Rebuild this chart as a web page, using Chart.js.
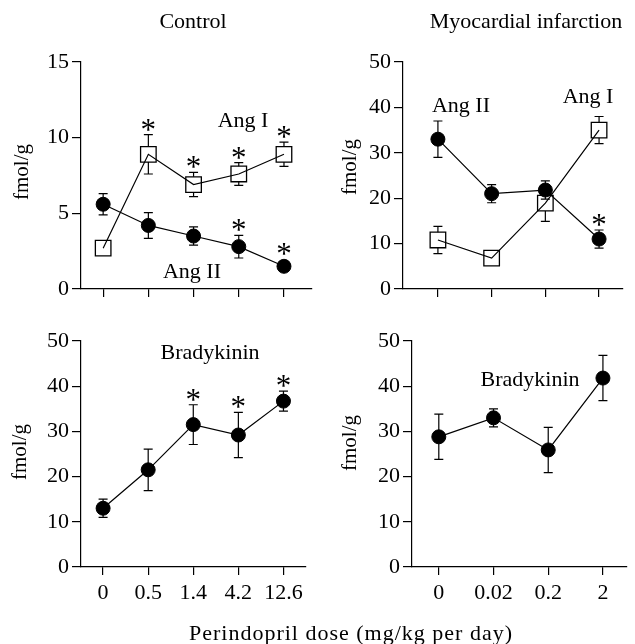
<!DOCTYPE html>
<html>
<head>
<meta charset="utf-8">
<script src="https://cdn.jsdelivr.net/npm/chart.js@4.4.1/dist/chart.umd.min.js"></script>
<style>
  body{margin:0;background:#fff;}
  #wrap{position:relative;width:635px;height:644px;}
  #wrap canvas{position:absolute;left:0;top:0;}
</style>
</head>
<body>
<div id="wrap">
  <canvas id="panel1" width="635" height="644"></canvas>
  <canvas id="panel2" width="635" height="644"></canvas>
  <canvas id="panel3" width="635" height="644"></canvas>
  <canvas id="panel4" width="635" height="644"></canvas>
</div>
<script>
// dosis (mg/kg por dia)
const dosisControl = ["0", "0.5", "1.4", "4.2", "12.6"];
const dosisInfarto = ["0", "0.02", "0.2", "2"];

// Control - Ang I / Ang II (fmol/g)
const angIControl      = [2.7, 8.9, 6.9, 7.6, 8.9];
const angIControlErr   = [0, 1.3, 0.8, 0.75, 0.8];
const angIControlSig   = [0, 1, 1, 1, 1];
const angIIControl     = [5.6, 4.2, 3.5, 2.8, 1.5];
const angIIControlErr  = [0.7, 0.85, 0.6, 0.75, 0];
const angIIControlSig  = [0, 0, 0, 1, 1];

// Infarto - Ang I / Ang II
const angIInfarto      = [10.8, 6.8, 18.9, 35];
const angIInfartoErr   = [3, 0, 4, 3];
const angIInfartoSig   = [0, 0, 0, 0];
const angIIInfarto     = [33, 21, 21.8, 11];
const angIIInfartoErr  = [4, 2, 2, 2];
const angIIInfartoSig  = [0, 0, 0, 1];

// Bradiquinina
const bkControl        = [13, 21.5, 31.5, 29.2, 36.7];
const bkControlErr     = [2, 4.6, 4.4, 5, 2.2];
const bkControlSig     = [0, 0, 1, 1, 1];
const bkInfarto        = [28.8, 33, 25.9, 41.8];
const bkInfartoErr     = [5, 2, 5, 5];
const bkInfartoSig     = [0, 0, 0, 0];

const serif = "'Liberation Serif', 'Times New Roman', serif";

const pluginTextos = {
    id: 'textos',
    beforeDatasetsDraw(chart){
        // barras de error
        const ctx = chart.ctx;
        const y = chart.scales.y;
        ctx.save();
        ctx.strokeStyle = '#000';
        ctx.lineWidth = 1.2;
        chart.data.datasets.forEach((ds, i) => {
            const meta = chart.getDatasetMeta(i);
            meta.data.forEach((pt, k) => {
                const e = ds.errores[k];
                if(!e) return;
                const hueco = ds.pointStyle === 'rect' ? ds.pointRadius * Math.SQRT1_2 : 0;
                const yTop = y.getPixelForValue(ds.data[k].y + e);
                const yBot = y.getPixelForValue(ds.data[k].y - e);
                ctx.beginPath();
                if(yTop < pt.y - hueco){
                    ctx.moveTo(pt.x, pt.y - hueco); ctx.lineTo(pt.x, yTop);
                    ctx.moveTo(pt.x - 4.5, yTop); ctx.lineTo(pt.x + 4.5, yTop);
                }
                if(yBot > pt.y + hueco){
                    ctx.moveTo(pt.x, pt.y + hueco); ctx.lineTo(pt.x, yBot);
                    ctx.moveTo(pt.x - 4.5, yBot); ctx.lineTo(pt.x + 4.5, yBot);
                }
                ctx.stroke();
            });
        });
        ctx.restore();
    },
    afterDatasetsDraw(chart, args, opts){
        const ctx = chart.ctx;
        const y = chart.scales.y;
        ctx.save();
        ctx.fillStyle = '#000';
        ctx.textAlign = 'center';
        ctx.textBaseline = 'alphabetic';

        // asteriscos
        ctx.font = `31px ${serif}`;
        const m = ctx.measureText('*');
        chart.data.datasets.forEach((ds, i) => {
            const meta = chart.getDatasetMeta(i);
            meta.data.forEach((pt, k) => {
                if(!ds.signif[k]) return;
                const mitad = ds.pointStyle === 'rect' ? ds.pointRadius * Math.SQRT1_2 : ds.pointRadius + 0.5;
                const tope = Math.min(pt.y - mitad, y.getPixelForValue(ds.data[k].y + (ds.errores[k] || 0)));
                const yc = tope - 10;
                ctx.fillText('*', pt.x, yc + (m.actualBoundingBoxAscent - m.actualBoundingBoxDescent) / 2);
            });
        });

        // textos
        (opts.textos || []).forEach(t => {
            ctx.font = `${t.size || 22}px ${serif}`;
            ctx.letterSpacing = t.esp || '0px';
            if(t.rot){
                ctx.save();
                ctx.translate(t.x, t.y);
                ctx.rotate(-Math.PI / 2);
                ctx.fillText(t.texto, 0, 0);
                ctx.restore();
            }else{
                ctx.fillText(t.texto, t.x, t.y);
            }
        });
        ctx.restore();
    }
};

function serie(valores, errores, signif, estilo){
    const hueco = estilo === 'rect';
    return {
        data: valores.map((v, i) => ({x: i, y: v})),
        errores: errores,
        signif: signif,
        borderColor: '#000',
        borderWidth: 1.2,
        pointStyle: estilo,
        pointRadius: hueco ? 11 : 7,
        pointBorderWidth: hueco ? 1.3 : 1,
        pointBorderColor: '#000',
        pointBackgroundColor: hueco ? 'rgba(0,0,0,0)' : '#000',
        tension: 0,
        fill: false
    };
}

function crearPanel(id, p){
    const anchoY = 60;
    const ejeX = {
        type: 'linear',
        min: p.xMin,
        max: p.xMax,
        afterBuildTicks: s => { s.ticks = p.etiquetas.map((_, i) => ({value: i})); },
        afterFit: s => { s.height = 644 - p.area.bottom; },
        ticks: {
            display: p.mostrarX,
            autoSkip: false,
            maxRotation: 0,
            padding: 5,
            color: '#000',
            font: {family: serif, size: 22},
            callback: (v, i) => p.etiquetas[i]
        },
        grid: {drawOnChartArea: false, drawTicks: true, tickLength: 8, color: '#000', lineWidth: 1.2},
        border: {color: '#000', width: 1.2}
    };
    const ejeY = {
        min: 0,
        max: p.yMax,
        afterFit: s => { s.width = anchoY; },
        ticks: {stepSize: p.paso, padding: 3, color: '#000', font: {family: serif, size: 22}},
        grid: {drawOnChartArea: false, drawTicks: true, tickLength: 9, color: '#000', lineWidth: 1.2},
        border: {color: '#000', width: 1.2}
    };
    return new Chart(document.getElementById(id), {
        type: 'line',
        data: {datasets: p.series},
        plugins: [pluginTextos],
        options: {
            responsive: false,
            animation: false,
            layout: {padding: {left: p.area.left - anchoY, top: p.area.top, right: 635 - p.area.right, bottom: 0}},
            plugins: {
                legend: {display: false},
                tooltip: {enabled: false},
                textos: {textos: p.textos}
            },
            scales: {x: ejeX, y: ejeY}
        }
    });
}

crearPanel('panel1', {
    area: {left: 81, top: 62, right: 312, bottom: 289},
    xMin: -0.49, xMax: 4.62, yMax: 15, paso: 5,
    etiquetas: dosisControl, mostrarX: false,
    series: [
        serie(angIIControl, angIIControlErr, angIIControlSig, 'circle'),
        serie(angIControl, angIControlErr, angIControlSig, 'rect')
    ],
    textos: [
        {texto: 'Control', x: 193, y: 28},
        {texto: 'fmol/g', x: 27.5, y: 172, rot: true, size: 21},
        {texto: 'Ang I', x: 243, y: 127},
        {texto: 'Ang II', x: 192, y: 278}
    ]
});

crearPanel('panel2', {
    area: {left: 403, top: 62, right: 635, bottom: 289},
    xMin: -0.65, xMax: 3.44, yMax: 50, paso: 10,
    etiquetas: dosisInfarto, mostrarX: false,
    series: [
        serie(angIIInfarto, angIIInfartoErr, angIIInfartoSig, 'circle'),
        serie(angIInfarto, angIInfartoErr, angIInfartoSig, 'rect')
    ],
    textos: [
        {texto: 'Myocardial infarction', x: 526, y: 28},
        {texto: 'fmol/g', x: 356, y: 167, rot: true, size: 21},
        {texto: 'Ang II', x: 461, y: 112},
        {texto: 'Ang I', x: 588, y: 103}
    ]
});

crearPanel('panel3', {
    area: {left: 81, top: 341, right: 306, bottom: 567},
    xMin: -0.49, xMax: 4.5, yMax: 50, paso: 10,
    etiquetas: dosisControl, mostrarX: true,
    series: [serie(bkControl, bkControlErr, bkControlSig, 'circle')],
    textos: [
        {texto: 'fmol/g', x: 26, y: 452, rot: true, size: 21},
        {texto: 'Bradykinin', x: 210, y: 359}
    ]
});

crearPanel('panel4', {
    area: {left: 412, top: 341, right: 635, bottom: 567},
    xMin: -0.49, xMax: 3.44, yMax: 50, paso: 10,
    etiquetas: dosisInfarto, mostrarX: true,
    series: [serie(bkInfarto, bkInfartoErr, bkInfartoSig, 'circle')],
    textos: [
        {texto: 'fmol/g', x: 356, y: 443, rot: true, size: 21},
        {texto: 'Bradykinin', x: 530, y: 386},
        {texto: 'Perindopril dose (mg/kg per day)', x: 351, y: 640, esp: '1px'}
    ]
});
</script>
</body>
</html>
